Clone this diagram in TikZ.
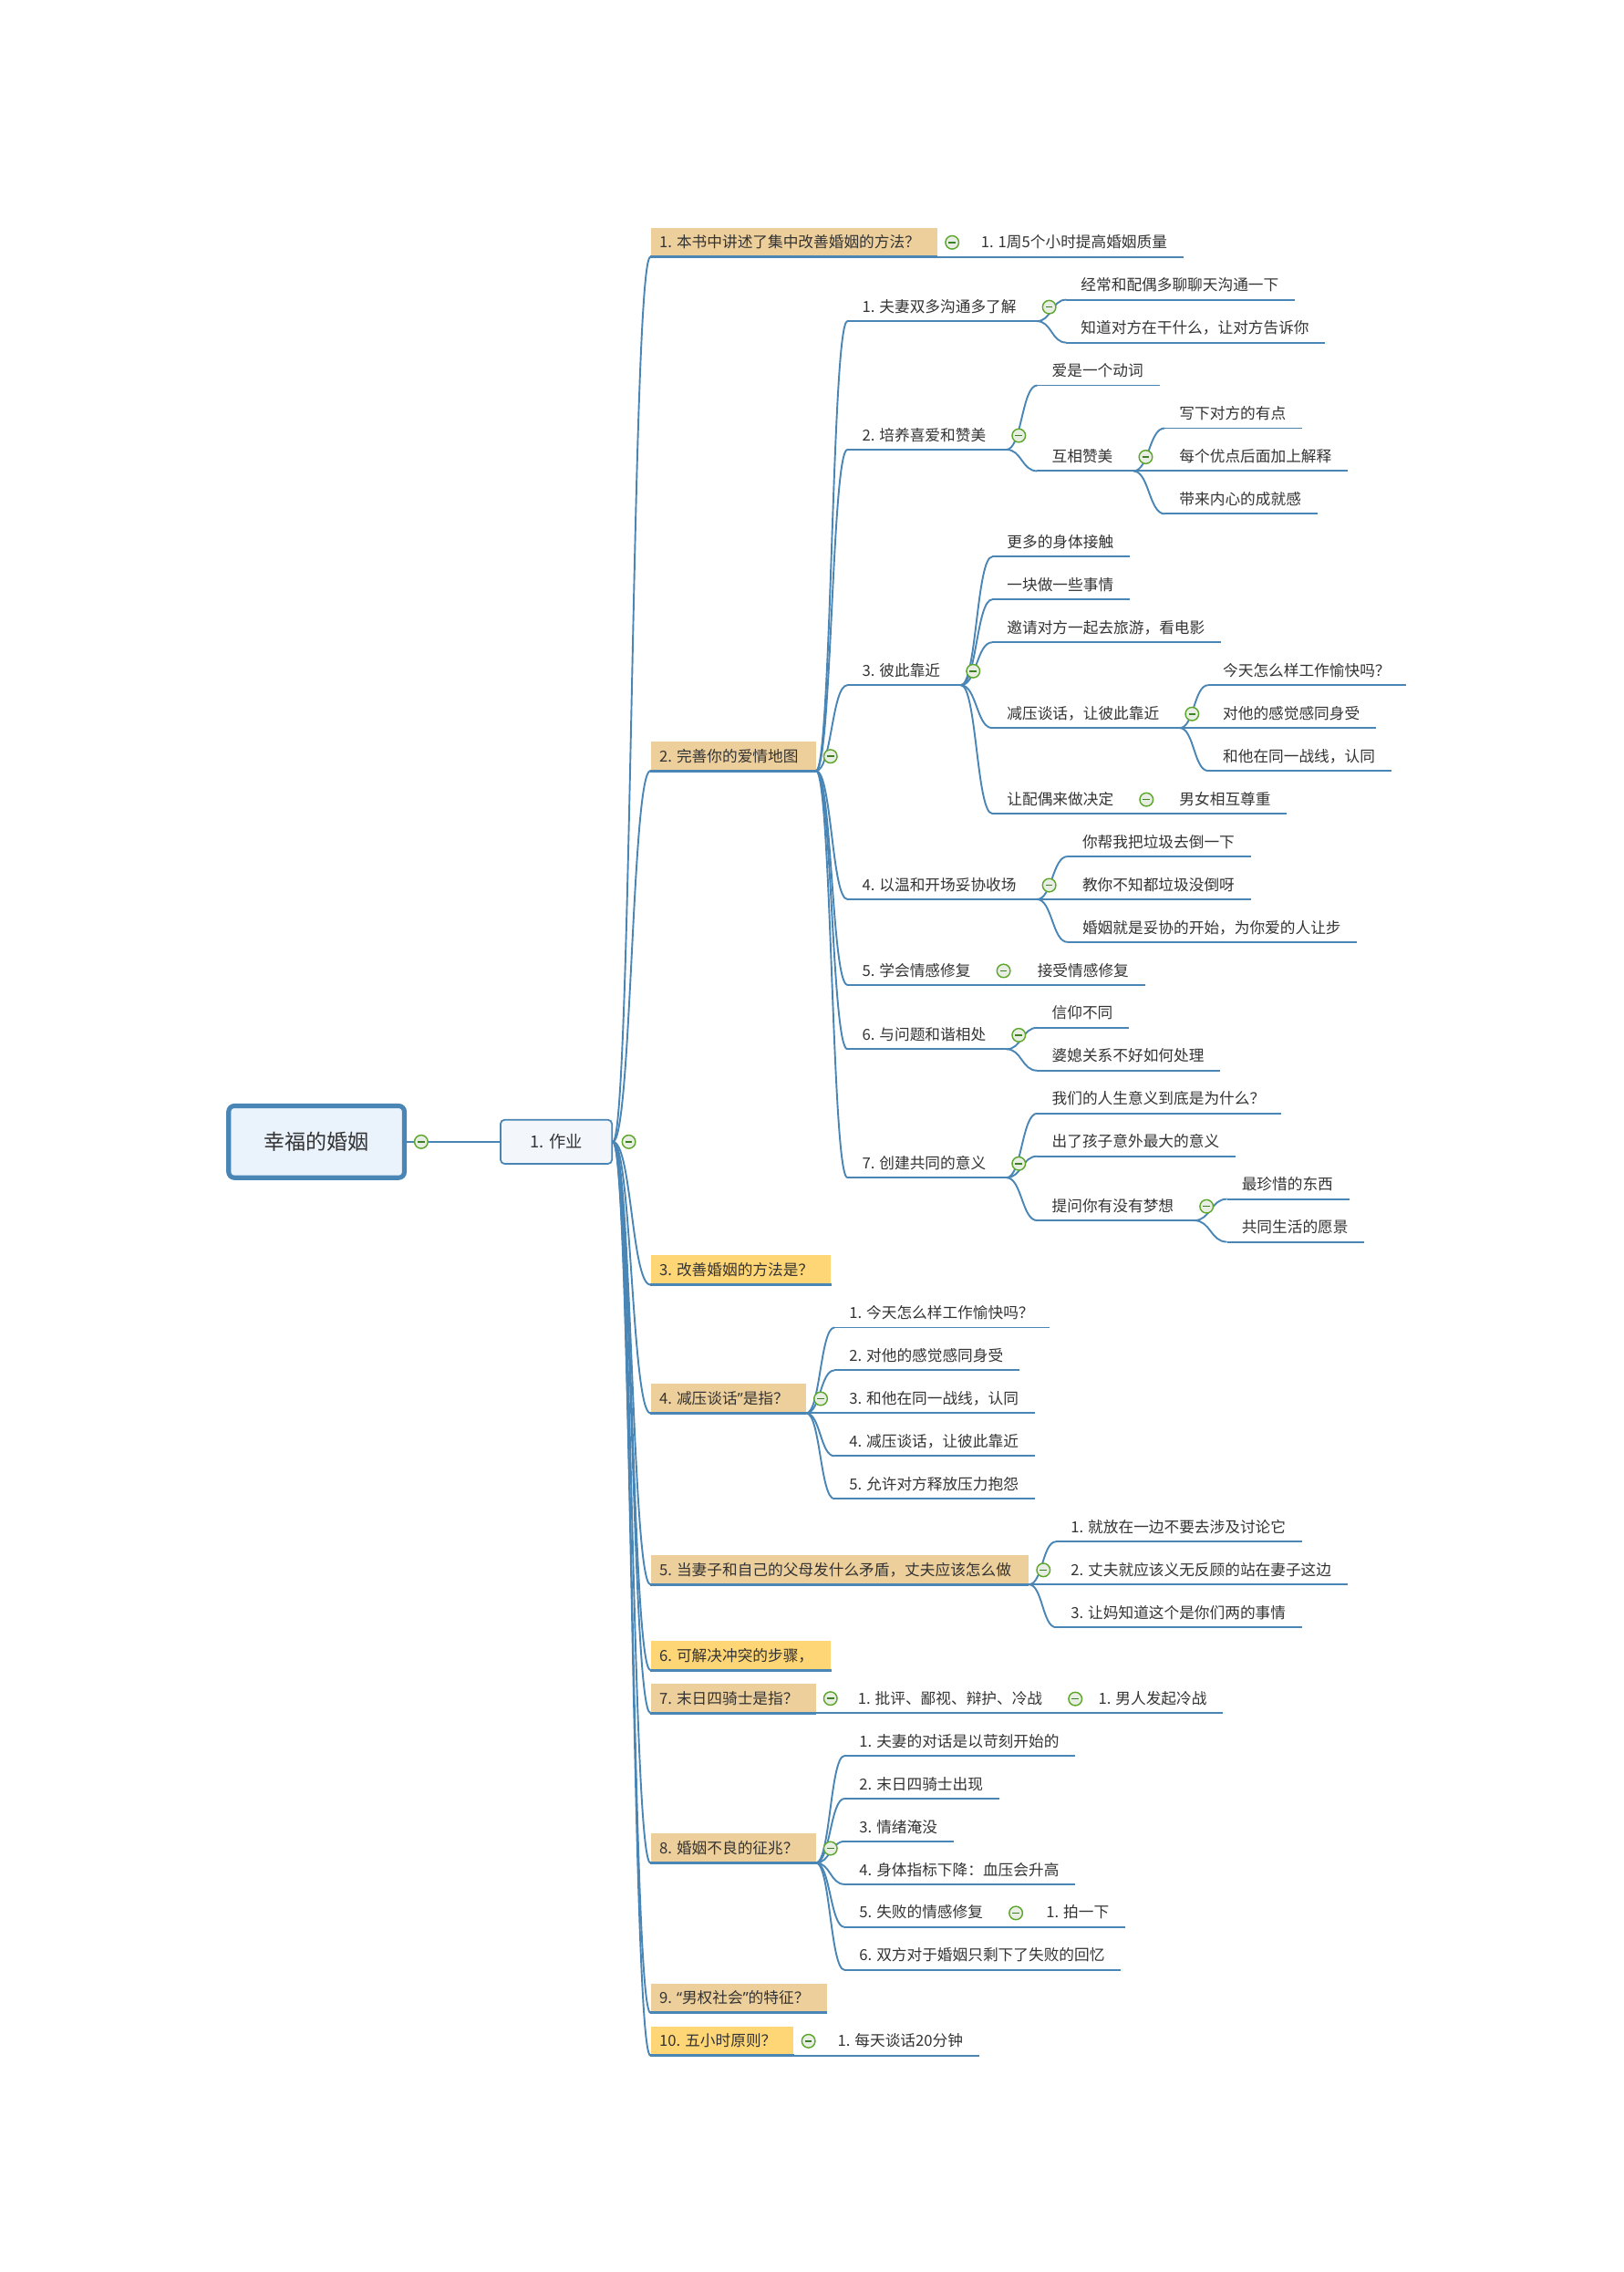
\documentclass[tikz,border=0pt]{standalone}
\usepackage{fontspec}
\setmainfont{Noto Sans CJK SC}
\newfontfamily\qfont{Noto Sans}
\usetikzlibrary{calc}
\definecolor{lblue}{RGB}{74,134,181}
\definecolor{boxtan}{RGB}{237,207,156}
\definecolor{boxyel}{RGB}{255,214,118}
\definecolor{cgreen}{RGB}{92,166,42}
\definecolor{cdark}{RGB}{62,128,36}
\definecolor{cfill}{RGB}{232,238,228}
\definecolor{tcol}{RGB}{51,51,51}
\definecolor{rootfill}{RGB}{234,242,252}
\definecolor{zyfill}{RGB}{243,247,252}
\newcommand\ry[1]{177.3+29.555*#1}
\newcommand\mmlinks[2]{\foreach \mmc in {#2}{\draw[conn] (#1.south east) to (\mmc.south west);}}
\tikzset{
  uline/.style={draw=lblue, line width=1.2pt},
  bline/.style={draw=lblue, line width=1.9pt},
  conn/.style={draw=lblue, line width=1.2pt,
    to path={let \p1=(\tikztostart), \p2=(\tikztotarget) in
      .. controls ({(\x1+\x2)/2},\y1) and ({(\x1+\x2)/2},\y2) .. (\tikztotarget)}},
  base/.style={anchor=south west, inner sep=0pt, text height=9pt, text depth=6pt,
    font=\fontsize{10.5}{12}\selectfont, text=tcol},
  topic/.style={base, execute at begin node={\kern10pt}, execute at end node={\kern#1},
    append after command={(\tikzlastnode.south west) edge[uline] (\tikzlastnode.south east)}},
  leaf/.style={topic=11pt},
  mid/.style={topic=14pt},
  l2/.style={anchor=south west, inner sep=0pt, text height=14pt, text depth=6pt,
    font=\fontsize{10.5}{12}\selectfont, text=tcol, fill=#1,
    execute at begin node={\kern6pt}, execute at end node={\kern12pt},
    append after command={(\tikzlastnode.south west) edge[bline] (\tikzlastnode.south east)}},
  cbtn/.style={circle, draw=cgreen, fill=cfill, line width=0.9pt, minimum size=9.2pt, inner sep=0pt,
    path picture={\draw[cdark, line width=1pt] ([xshift=-2.4pt]path picture bounding box.center) -- ([xshift=2.4pt]path picture bounding box.center);}},
}
\begin{document}
\begin{tikzpicture}[x=1pt, y=-1pt]
\useasboundingbox (0,0) rectangle (1121,1568);

% root and first level
\node[draw=lblue, line width=3.2pt, fill=rootfill, rounded corners=4pt, minimum width=121.3pt,
  minimum height=49.6pt, font=\fontsize{14.5}{17}\selectfont, text=tcol] (root) at (218.5,788) {幸福的婚姻};
\node[draw=lblue, line width=1.1pt, fill=zyfill, rounded corners=3pt, minimum width=77pt,
  minimum height=30.5pt, font=\fontsize{11.5}{13}\selectfont, text=tcol] (zy) at (384,788) {1. 作业};

% level 2 boxes
\node[l2=boxtan] (a1) at (449,{\ry{0}}) {1. 本书中讲述了集中改善婚姻的方法？};
\node[l2=boxtan] (a2) at (449,{\ry{12}}) {2. 完善你的爱情地图};
\node[l2=boxyel] (a3) at (449,{\ry{24}}) {3. 改善婚姻的方法是？};
\node[l2=boxtan] (a4) at (449,{\ry{27}}) {4. 减压谈话{\qfont ”}是指？};
\node[l2=boxtan] (a5) at (449,{\ry{31}}) {5. 当妻子和自己的父母发什么矛盾，丈夫应该怎么做};
\node[l2=boxyel] (a6) at (449,{\ry{33}}) {6. 可解决冲突的步骤，};
\node[l2=boxtan] (a7) at (449,{\ry{34}}) {7. 末日四骑士是指？};
\node[l2=boxtan] (a8) at (449,{\ry{37.5}}) {8. 婚姻不良的征兆？};
\node[l2=boxtan] (a9) at (449,{\ry{41}}) {9. {\qfont “}男权社会{\qfont ”}的特征？};
\node[l2=boxyel] (a10) at (449,{\ry{42}}) {10. 五小时原则？};

% under 1.
\node[leaf] (a1x) at (667,{\ry{0}}) {1. 1周5个小时提高婚姻质量};

% under 2.
\node[mid] (b1) at (585,{\ry{1.5}}) {1. 夫妻双多沟通多了解};
\node[leaf] (b1a) at (736,{\ry{1}}) {经常和配偶多聊聊天沟通一下};
\node[leaf] (b1b) at (736,{\ry{2}}) {知道对方在干什么，让对方告诉你};

\node[mid] (b2) at (585,{\ry{4.5}}) {2. 培养喜爱和赞美};
\node[leaf] (b2a) at (716,{\ry{3}}) {爱是一个动词};
\node[mid] (b2b) at (716,{\ry{5}}) {互相赞美};
\node[leaf] (b2b1) at (804,{\ry{4}}) {写下对方的有点};
\node[leaf] (b2b2) at (804,{\ry{5}}) {每个优点后面加上解释};
\node[leaf] (b2b3) at (804,{\ry{6}}) {带来内心的成就感};

\node[mid] (b3) at (585,{\ry{10}}) {3. 彼此靠近};
\node[leaf] (b3a) at (685,{\ry{7}}) {更多的身体接触};
\node[leaf] (b3b) at (685,{\ry{8}}) {一块做一些事情};
\node[leaf] (b3c) at (685,{\ry{9}}) {邀请对方一起去旅游，看电影};
\node[mid] (b3d) at (685,{\ry{11}}) {减压谈话，让彼此靠近};
\node[leaf] (b3d1) at (834,{\ry{10}}) {今天怎么样工作愉快吗？};
\node[leaf] (b3d2) at (834,{\ry{11}}) {对他的感觉感同身受};
\node[leaf] (b3d3) at (834,{\ry{12}}) {和他在同一战线，认同};
\node[mid] (b3e) at (685,{\ry{13}}) {让配偶来做决定};
\node[leaf] (b3e1) at (804,{\ry{13}}) {男女相互尊重};

\node[mid] (b4) at (585,{\ry{15}}) {4. 以温和开场妥协收场};
\node[leaf] (b4a) at (737,{\ry{14}}) {你帮我把垃圾去倒一下};
\node[leaf] (b4b) at (737,{\ry{15}}) {教你不知都垃圾没倒呀};
\node[leaf] (b4c) at (737,{\ry{16}}) {婚姻就是妥协的开始，为你爱的人让步};

\node[mid] (b5) at (585,{\ry{17}}) {5. 学会情感修复};
\node[leaf] (b5a) at (706,{\ry{17}}) {接受情感修复};

\node[mid] (b6) at (585,{\ry{18.5}}) {6. 与问题和谐相处};
\node[leaf] (b6a) at (716,{\ry{18}}) {信仰不同};
\node[leaf] (b6b) at (716,{\ry{19}}) {婆媳关系不好如何处理};

\node[mid] (b7) at (585,{\ry{21.5}}) {7. 创建共同的意义};
\node[leaf] (b7a) at (716,{\ry{20}}) {我们的人生意义到底是为什么？};
\node[leaf] (b7b) at (716,{\ry{21}}) {出了孩子意外最大的意义};
\node[mid] (b7c) at (716,{\ry{22.5}}) {提问你有没有梦想};
\node[leaf] (b7c1) at (847,{\ry{22}}) {最珍惜的东西};
\node[leaf] (b7c2) at (847,{\ry{23}}) {共同生活的愿景};

% under 4.
\node[leaf] (d1) at (576,{\ry{25}}) {1. 今天怎么样工作愉快吗？};
\node[leaf] (d2) at (576,{\ry{26}}) {2. 对他的感觉感同身受};
\node[leaf] (d3) at (576,{\ry{27}}) {3. 和他在同一战线，认同};
\node[leaf] (d4) at (576,{\ry{28}}) {4. 减压谈话，让彼此靠近};
\node[leaf] (d5) at (576,{\ry{29}}) {5. 允许对方释放压力抱怨};

% under 5.
\node[leaf] (e1) at (729,{\ry{30}}) {1. 就放在一边不要去涉及讨论它};
\node[leaf] (e2) at (729,{\ry{31}}) {2. 丈夫就应该义无反顾的站在妻子这边};
\node[leaf] (e3) at (729,{\ry{32}}) {3. 让妈知道这个是你们两的事情};

% under 7.
\node[mid] (f1) at (582,{\ry{34}}) {1. 批评、鄙视、辩护、冷战};
\node[leaf] (f1a) at (748,{\ry{34}}) {1. 男人发起冷战};

% under 8.
\node[leaf] (g1) at (583,{\ry{35}}) {1. 夫妻的对话是以苛刻开始的};
\node[leaf] (g2) at (583,{\ry{36}}) {2. 末日四骑士出现};
\node[leaf] (g3) at (583,{\ry{37}}) {3. 情绪淹没};
\node[leaf] (g4) at (583,{\ry{38}}) {4. 身体指标下降：血压会升高};
\node[mid] (g5) at (583,{\ry{39}}) {5. 失败的情感修复};
\node[leaf] (g5a) at (712,{\ry{39}}) {1. 拍一下};
\node[leaf] (g6) at (583,{\ry{40}}) {6. 双方对于婚姻只剩下了失败的回忆};

% under 10.
\node[leaf] (h1) at (568,{\ry{42}}) {1. 每天谈话20分钟};

% connectors
\draw[conn] (root.east) -- (zy.west);
\foreach \mmc in {a1,a2,a3,a4,a5,a6,a7,a8,a9,a10}{\draw[conn] (zy.east) to (\mmc.south west);}
\mmlinks{a1}{a1x}
\mmlinks{a2}{b1,b2,b3,b4,b5,b6,b7}
\mmlinks{b1}{b1a,b1b}
\mmlinks{b2}{b2a,b2b}
\mmlinks{b2b}{b2b1,b2b2,b2b3}
\mmlinks{b3}{b3a,b3b,b3c,b3d,b3e}
\mmlinks{b3d}{b3d1,b3d2,b3d3}
\mmlinks{b3e}{b3e1}
\mmlinks{b4}{b4a,b4b,b4c}
\mmlinks{b5}{b5a}
\mmlinks{b6}{b6a,b6b}
\mmlinks{b7}{b7a,b7b,b7c}
\mmlinks{b7c}{b7c1,b7c2}
\mmlinks{a4}{d1,d2,d3,d4,d5}
\mmlinks{a5}{e1,e2,e3}
\mmlinks{a7}{f1}
\mmlinks{f1}{f1a}
\mmlinks{a8}{g1,g2,g3,g4,g5,g6}
\mmlinks{g5}{g5a}
\mmlinks{a10}{h1}

% collapse buttons
\node[cbtn] (croot) at ([xshift=10pt]root.east) {};
\node[cbtn] (czy) at ([xshift=11pt]zy.east) {};
\foreach \mmc in {a1,a2,a4,a5,a7,a8,a10}{\node[cbtn] (c\mmc) at ([shift={(10,-10)}]\mmc.south east) {};}
\foreach \mmc in {b1,b2,b2b,b3,b3d,b3e,b4,b5,b6,b7,b7c,f1,g5}{\node[cbtn] (c\mmc) at ([shift={(8.5,-9.7)}]\mmc.south east) {};}
\end{tikzpicture}
\end{document}
